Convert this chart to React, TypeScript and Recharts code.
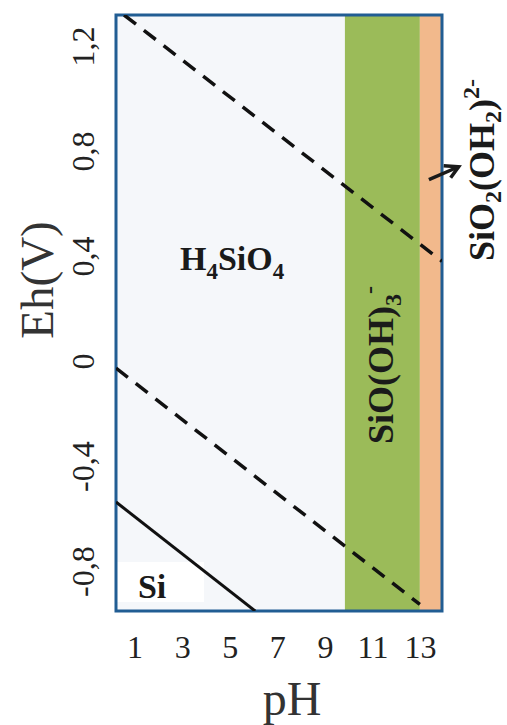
import React from 'react';
import { ComposedChart, Line, XAxis, YAxis, ReferenceArea, ReferenceDot, ReferenceLine } from 'recharts';

// axis setup
const phTicks = [1, 3, 5, 7, 9, 11, 13];
const ehTicks = [-0.8, -0.4, 0, 0.4, 0.8, 1.2];
const phMin = 0.2;
const phMax = 13.9;
const ehMin = -0.95;
const ehMax = 1.32;

// stability field boundaries (pH)
const h4sio4Field = [0.2, 9.82];
const sioOh3Field = [9.82, 12.97];
const sio2Oh2Field = [12.97, 13.9];

// boundary lines (pH, Eh)
const oxygenLine = [
  { ph: 0.54, eh: 1.32 },
  { ph: 13.9, eh: 0.382 },
];
const hydrogenLine = [
  { ph: 0.2, eh: -0.025 },
  { ph: 12.97, eh: -0.925 },
];
const siLine = [
  { ph: 0.2, eh: -0.535 },
  { ph: 6.05, eh: -0.95 },
];

// annotation anchors (pH, Eh)
const h4sio4Label = { ph: 2.89, eh: 0.35 };
const sioOh3Label = { ph: 11.84, eh: -0.013 };
const sio2Oh2Label = { ph: 16.08, eh: 0.73 };
const siLabel = { ph: 1.12, eh: -0.9 };
const siBox = { ph1: 0.2, ph2: 3.9, eh1: -0.916, eh2: -0.763 };
const arrowTail = { ph: 13.35, eh: 0.693 };
const arrowHead = { ph: 14.6, eh: 0.742 };

const FONT = 'Liberation Serif, Times New Roman, Times, serif';
const BLUE = '#215d93';

const fmt = (v: number) => String(v).replace('.', ',');

const XTick = (props: any) => {
  const { x, payload } = props;
  return (
    <text x={x} y={658} textAnchor="middle" style={{ fontFamily: FONT }} fontSize={32} fill="#222">
      {payload.value}
    </text>
  );
};

const YTick = (props: any) => {
  const { y, payload } = props;
  const bx = 94;
  return (
    <text
      x={bx}
      y={y}
      transform={`rotate(-90 ${bx} ${y})`}
      textAnchor="middle"
      style={{ fontFamily: FONT }}
      fontSize={32}
      fill="#222"
    >
      {fmt(payload.value)}
    </text>
  );
};

export default function App() {
  return (
    <div style={{ position: 'absolute', left: 0, top: 0, background: '#fff', fontFamily: FONT }}>
      <ComposedChart
        width={507}
        height={725}
        margin={{ top: 15, right: 65, bottom: 0, left: 0 }}
        style={{ fontFamily: FONT }}
      >
        <XAxis
          type="number"
          dataKey="ph"
          domain={[phMin, phMax]}
          ticks={phTicks}
          allowDataOverflow
          axisLine={false}
          tickLine={false}
          height={114}
          tick={<XTick />}
          label={(() => (
            <text x={292} y={715} textAnchor="middle" style={{ fontFamily: FONT }} fontSize={48} fill="#333">
              pH
            </text>
          )) as any}
        />
        <YAxis
          type="number"
          domain={[ehMin, ehMax]}
          ticks={ehTicks}
          allowDataOverflow
          axisLine={false}
          tickLine={false}
          width={116}
          tick={<YTick />}
          label={(() => (
            <text
              x={53}
              y={280}
              transform="rotate(-90 53 280)"
              textAnchor="middle"
              style={{ fontFamily: FONT }}
              fontSize={47}
              fill="#333"
            >
              Eh(V)
            </text>
          )) as any}
        />
        <ReferenceArea x1={h4sio4Field[0]} x2={h4sio4Field[1]} y1={ehMin} y2={ehMax} fill="#f5f7fa" fillOpacity={1} stroke="none" />
        <ReferenceArea x1={sioOh3Field[0]} x2={sioOh3Field[1]} y1={ehMin} y2={ehMax} fill="#9bbb59" fillOpacity={1} stroke="none" />
        <ReferenceArea x1={sio2Oh2Field[0]} x2={sio2Oh2Field[1]} y1={ehMin} y2={ehMax} fill="#f2b98c" fillOpacity={1} stroke="none" />
        <ReferenceArea x1={siBox.ph1} x2={siBox.ph2} y1={siBox.eh1} y2={siBox.eh2} fill="#ffffff" fillOpacity={1} stroke="none" />

        <Line data={oxygenLine} dataKey="eh" type="linear" stroke="#111" strokeWidth={3.5} strokeDasharray="15 10" dot={false} activeDot={false} isAnimationActive={false} />
        <Line data={hydrogenLine} dataKey="eh" type="linear" stroke="#111" strokeWidth={3.5} strokeDasharray="15 10" dot={false} activeDot={false} isAnimationActive={false} />
        <Line data={siLine} dataKey="eh" type="linear" stroke="#111" strokeWidth={3} dot={false} activeDot={false} isAnimationActive={false} />

        <ReferenceDot
          x={h4sio4Label.ph}
          y={h4sio4Label.eh}
          r={0}
          ifOverflow="visible"
          shape={(p: any) => (
            <text x={p.cx} y={p.cy} style={{ fontFamily: FONT }} fontSize={34} fontWeight="bold" fill="#1a1a1a">
              <tspan>H</tspan>
              <tspan dy={9} fontSize={23}>4</tspan>
              <tspan dy={-9}>SiO</tspan>
              <tspan dy={9} fontSize={23}>4</tspan>
            </text>
          )}
        />
        <ReferenceDot
          x={sioOh3Label.ph}
          y={sioOh3Label.eh}
          r={0}
          ifOverflow="visible"
          shape={(p: any) => (
            <text
              x={p.cx}
              y={p.cy}
              transform={`rotate(-90 ${p.cx} ${p.cy})`}
              textAnchor="middle"
              style={{ fontFamily: FONT }}
              fontSize={36}
              fontWeight="bold"
              fill="#1a1a1a"
            >
              <tspan>SiO(OH)</tspan>
              <tspan dy={8} fontSize={24}>3</tspan>
              <tspan dy={-24} fontSize={24}>-</tspan>
            </text>
          )}
        />
        <ReferenceDot
          x={sio2Oh2Label.ph}
          y={sio2Oh2Label.eh}
          r={0}
          ifOverflow="visible"
          shape={(p: any) => (
            <text
              x={p.cx}
              y={p.cy}
              transform={`rotate(-90 ${p.cx} ${p.cy})`}
              textAnchor="middle"
              style={{ fontFamily: FONT }}
              fontSize={36}
              fontWeight="bold"
              fill="#1a1a1a"
            >
              <tspan>SiO</tspan>
              <tspan dy={7} fontSize={24}>2</tspan>
              <tspan dy={-7}>(OH</tspan>
              <tspan dy={7} fontSize={24}>2</tspan>
              <tspan dy={-7}>)</tspan>
              <tspan dy={-15} fontSize={24}>2-</tspan>
            </text>
          )}
        />
        <ReferenceDot
          x={siLabel.ph}
          y={siLabel.eh}
          r={0}
          ifOverflow="visible"
          shape={(p: any) => (
            <text x={p.cx} y={p.cy} style={{ fontFamily: FONT }} fontSize={34} fontWeight="bold" fill="#1a1a1a">
              Si
            </text>
          )}
        />
        <ReferenceLine
          segment={[
            { x: arrowTail.ph, y: arrowTail.eh },
            { x: arrowHead.ph, y: arrowHead.eh },
          ]}
          ifOverflow="visible"
          stroke="#1a1a1a"
          strokeWidth={3.5}
        />
        <ReferenceDot
          x={arrowHead.ph}
          y={arrowHead.eh}
          r={0}
          ifOverflow="visible"
          shape={(p: any) => (
            <polyline
              points={`${p.cx - 15},${p.cy - 1} ${p.cx},${p.cy} ${p.cx - 8},${p.cy + 11}`}
              fill="none"
              stroke="#1a1a1a"
              strokeWidth={3.5}
              strokeLinejoin="miter"
            />
          )}
        />
        <ReferenceArea x1={phMin} x2={phMax} y1={ehMin} y2={ehMax} fill="none" stroke={BLUE} strokeWidth={3} />
      </ComposedChart>
    </div>
  );
}
